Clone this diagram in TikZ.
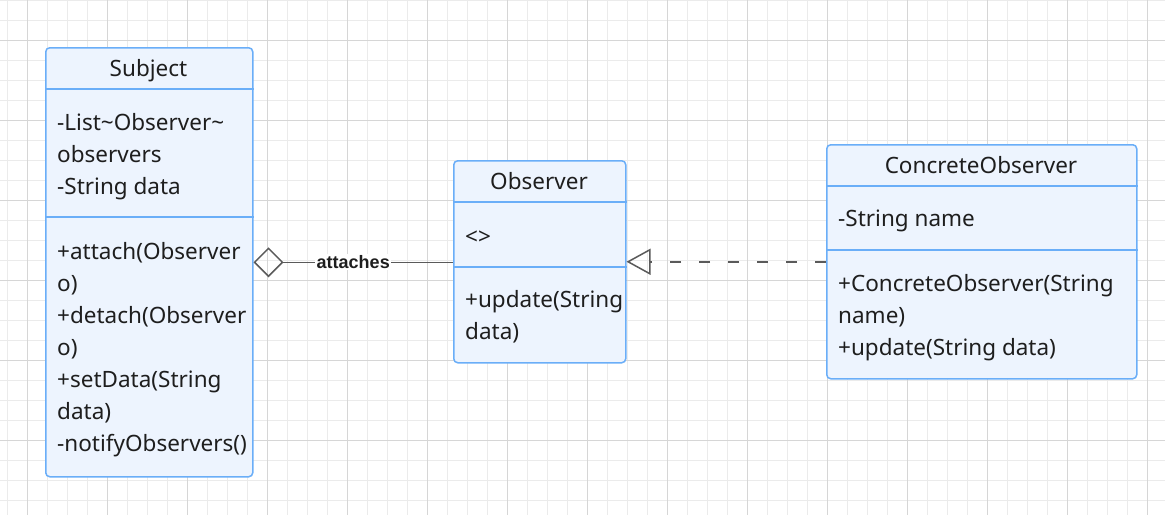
\documentclass[tikz,border=0pt]{standalone}
\usepackage{fontspec}
\setmainfont{Noto Sans}
\newfontfamily\relfont{Liberation Sans}
\usetikzlibrary{arrows.meta}
\definecolor{gridminor}{HTML}{EBEBEB}
\definecolor{gridmajor}{HTML}{D6D6D6}
\definecolor{classline}{HTML}{6AAEF8}
\definecolor{classfill}{HTML}{EDF4FE}
\definecolor{ink}{HTML}{1E1E1E}
\definecolor{relline}{HTML}{5A5A5A}
\newcommand{\umlfont}{\fontsize{22.5}{27}\selectfont}

\begin{document}
\begin{tikzpicture}[
    x=1pt, y=-1pt,
    classbox/.style={rectangle, draw=classline, fill=classfill, line width=1.5pt, rounded corners=4pt, inner sep=0pt, anchor=north west},
    divider/.style={draw=classline, line width=1.5pt},
    cname/.style={anchor=base, inner sep=0pt, font=\umlfont, text=ink},
    member/.style={anchor=base west, inner sep=0pt, font=\umlfont, text=ink},
    rel/.style={draw=relline, line width=1.5pt},
    rellabel/.style={fill=white, inner sep=1.5pt, font=\relfont\bfseries\fontsize{18}{20}\selectfont, text=ink}
]
% canvas and grid
\fill[white] (0,0) rectangle (1165,515);
\useasboundingbox (0,0) rectangle (1165,515);
\foreach \gx in {7,27,...,1167} \draw[gridminor, line width=1pt] (\gx,0) -- (\gx,515);
\foreach \gy in {0,20,...,515} \draw[gridminor, line width=1pt] (0,\gy) -- (1165,\gy);
\foreach \gx in {27,107,...,1165} \draw[gridmajor, line width=1pt] (\gx,0) -- (\gx,515);
\foreach \gy in {40,120,...,515} \draw[gridmajor, line width=1pt] (0,\gy) -- (1165,\gy);

% Subject
\node[classbox, minimum width=207pt, minimum height=429pt] (subject) at (45,47) {};
\draw[divider] (subject.west |- 0,89) -- (subject.east |- 0,89);
\draw[divider] (subject.west |- 0,217) -- (subject.east |- 0,217);
\node[cname] (subjname) at (148.5,76) {Subject};
\node[member] (subjattr1) at (57,130) {-List\textasciitilde Observer\textasciitilde};
\node[member] (subjattr2) at (57,162) {observers};
\node[member] (subjattr3) at (57,194) {-String data};
\node[member] (subjop1) at (57,259) {+attach(Observer};
\node[member] (subjop2) at (57,291) {o)};
\node[member] (subjop3) at (57,323) {+detach(Observer};
\node[member] (subjop4) at (57,355) {o)};
\node[member] (subjop5) at (57,387) {+setData(String};
\node[member] (subjop6) at (57,419) {data)};
\node[member] (subjop7) at (57,451) {-notifyObservers()};

% Observer
\node[classbox, minimum width=172pt, minimum height=202pt] (observer) at (453,160) {};
\draw[divider] (observer.west |- 0,202) -- (observer.east |- 0,202);
\draw[divider] (observer.west |- 0,267) -- (observer.east |- 0,267);
\node[cname] (obsname) at (539,189) {Observer};
\node[member] (obsattr1) at (465,244) {<>};
\node[member] (obsop1) at (465,307) {+update(String};
\node[member] (obsop2) at (465,339) {data)};

% ConcreteObserver
\node[classbox, minimum width=310pt, minimum height=234pt] (concrete) at (826,144) {};
\draw[divider] (concrete.west |- 0,186) -- (concrete.east |- 0,186);
\draw[divider] (concrete.west |- 0,250) -- (concrete.east |- 0,250);
\node[cname] (concname) at (981,173) {ConcreteObserver};
\node[member] (concattr1) at (838,226) {-String name};
\node[member] (concop1) at (838,291) {+ConcreteObserver(String};
\node[member] (concop2) at (838,323) {name)};
\node[member] (concop3) at (838,355) {+update(String data)};

% relations
\draw[rel, {Diamond[open, length=30pt, width=30pt]}-] (subject.east) -- node[rellabel] (attlabel) {attaches} (subject.east -| observer.west);
\draw[rel, dash pattern=on 11pt off 18pt, -{Triangle[open, length=24pt, width=26pt]}] (concrete.west) -- (concrete.west -| observer.east);
\end{tikzpicture}
\end{document}
